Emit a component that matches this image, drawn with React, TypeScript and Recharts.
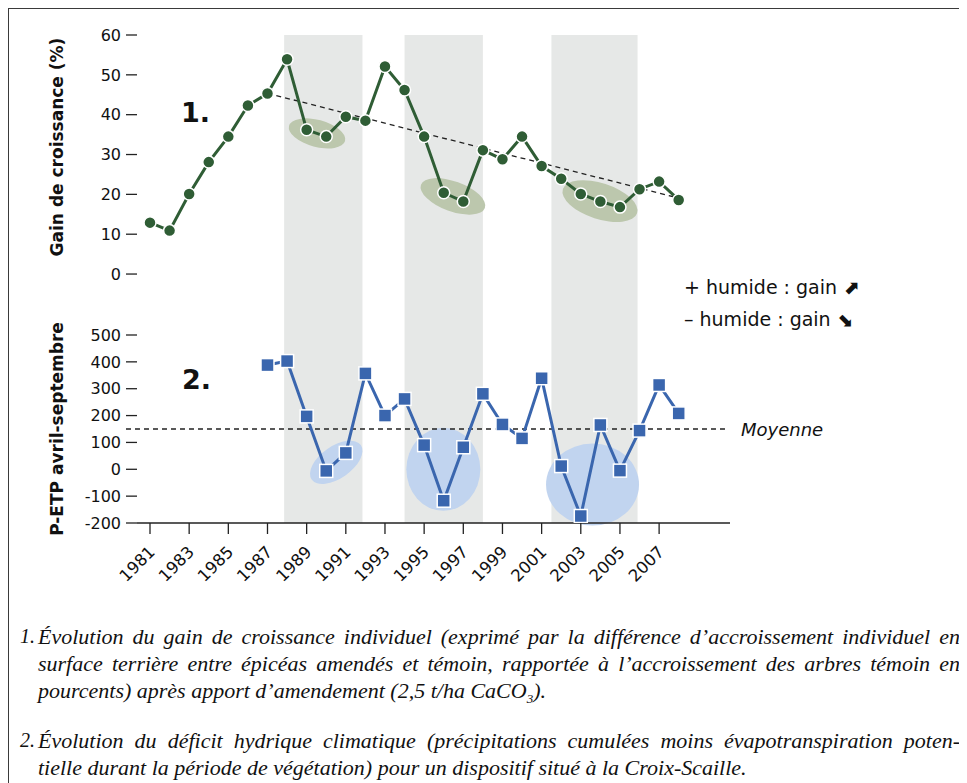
import React from 'react';
import {
  ComposedChart,
  Line,
  XAxis,
  YAxis,
  ReferenceArea,
  ReferenceLine,
  ReferenceDot,
} from 'recharts';

const years = [
  1981, 1982, 1983, 1984, 1985, 1986, 1987, 1988, 1989, 1990, 1991, 1992, 1993, 1994,
  1995, 1996, 1997, 1998, 1999, 2000, 2001, 2002, 2003, 2004, 2005, 2006, 2007, 2008,
];

// gain de croissance (%)
const gain = [
  12.9, 10.9, 20.1, 28.1, 34.5, 42.3, 45.3, 53.9, 36.2, 34.5, 39.5, 38.5, 52.1, 46.2,
  34.5, 20.4, 18.2, 31.1, 28.8, 34.5, 27.1, 23.9, 20.1, 18.2, 16.8, 21.3, 23.2, 18.6,
];

// P-ETP avril-septembre (mm)
const petp = [
  null, null, null, null, null, null, 388, 403, 197, -6, 61, 357, 200, 262,
  90, -117, 82, 281, 167, 115, 339, 12, -174, 165, -5, 144, 314, 208,
];

const xTicks = [1981, 1983, 1985, 1987, 1989, 1991, 1993, 1995, 1997, 1999, 2001, 2003, 2005, 2007];
const gainTicks = [0, 10, 20, 30, 40, 50, 60];
const petpTicks = [-200, -100, 0, 100, 200, 300, 400, 500];

// périodes grisées (années)
const bands = [
  [1987.85, 1991.85],
  [1994, 1998],
  [2001.5, 2005.9],
];

const trend = [
  { x: 1987.45, y: 44.8 },
  { x: 2007.9, y: 19.2 },
];
const moyenne = 150;

// centres des zones mises en évidence
const gainSpots = [
  { x: 1989.53, y: 35.3 },
  { x: 1996.47, y: 19.5 },
  { x: 2003.98, y: 18.3 },
];
const petpSpots = [
  { x: 1990.51, y: 26 },
  { x: 1995.98, y: 0 },
  { x: 2003.6, y: -57 },
];

const gainSpotShapes = [
  { rx: 29, ry: 13.5, angle: 15 },
  { rx: 34, ry: 15, angle: 20 },
  { rx: 39, ry: 18, angle: 18 },
];
const petpSpotShapes = [
  { rx: 30, ry: 16, angle: -35 },
  { rx: 37, ry: 41.5, angle: 0 },
  { rx: 46.5, ry: 41, angle: 0 },
];

const rows = years.map((year, i) => ({ year, gain: gain[i], petp: petp[i] }));

const GREEN = '#2f5d35';
const GREEN_SPOT = '#bcc7ad';
const BLUE = '#3a66ae';
const BLUE_SPOT = '#c1d4ef';
const BAND = '#e6e8e7';
const X_DOMAIN: [number, number] = [1980.336, 2010.62];
const FONT = '"DejaVu Sans", sans-serif';

const tickStyle = { fontSize: 16, fill: '#111', fontFamily: FONT };
const xTickStyle = { fontSize: 16.5, fill: '#111', fontFamily: FONT };

const ellipse = (shape: { rx: number; ry: number; angle: number }, fill: string) => (props: any) => {
  const { cx, cy } = props;
  return (
    <ellipse
      cx={cx}
      cy={cy}
      rx={shape.rx}
      ry={shape.ry}
      fill={fill}
      transform={`rotate(${shape.angle} ${cx} ${cy})`}
    />
  );
};

const CircleDot = (props: any) => {
  const { cx, cy, index } = props;
  if (cy == null || isNaN(cy)) return <g key={`c-${index}`} />;
  return <circle key={`c-${index}`} cx={cx} cy={cy} r={6} fill={GREEN} stroke="#fff" strokeWidth={1.5} />;
};

const SquareDot = (props: any) => {
  const { cx, cy, index } = props;
  if (cy == null || isNaN(cy)) return <g key={`s-${index}`} />;
  return (
    <rect key={`s-${index}`} x={cx - 6.5} y={cy - 6.5} width={13} height={13} fill={BLUE} stroke="#fff" strokeWidth={1.5} />
  );
};

const YearTick = (props: any) => {
  const { x, y, payload } = props;
  const px = x + 6;
  const py = y + 17;
  return (
    <text x={px} y={py} transform={`rotate(-45 ${px} ${py})`} textAnchor="end" style={xTickStyle}>
      {payload.value}
    </text>
  );
};

const captionLine = (top: number, text: React.ReactNode, justify: boolean) => (
  <div
    style={{
      position: 'absolute',
      left: 30,
      top,
      width: 922,
      lineHeight: '27px',
      whiteSpace: 'nowrap',
      textAlign: 'left',
      textAlignLast: justify ? 'justify' : 'left',
    }}
  >
    {text}
  </div>
);

const captionNumber = (top: number, text: string) => (
  <div style={{ position: 'absolute', left: 12, top, lineHeight: '27px', fontSize: 20 }}>{text}</div>
);

const TOP_MARGIN = { top: 27, right: 237, bottom: 13, left: 0 };
const BOTTOM_MARGIN = { top: 27, right: 237, bottom: 0, left: 0 };

const App: React.FC = () => {
  return (
    <div style={{ position: 'relative', width: 959, height: 775, overflow: 'hidden' }}>
      <style>{'body{overflow:hidden}'}</style>
      <div
        style={{
          position: 'absolute',
          left: 0,
          top: 0,
          width: 1000,
          height: 800,
          borderLeft: '1.5px solid #3a3a3a',
          borderTop: '1.5px solid #3a3a3a',
        }}
      />

      {/* 1. fond : périodes et zones */}
      <div style={{ position: 'absolute', left: 0, top: 0 }}>
        <ComposedChart width={959} height={340} data={rows} margin={TOP_MARGIN}>
          <XAxis type="number" dataKey="year" domain={X_DOMAIN} allowDataOverflow hide />
          <YAxis type="number" domain={[-15.3, 60]} width={129} axisLine={false} tickLine={false} tick={false} allowDataOverflow />
          {bands.map(([a, b], i) => (
            <ReferenceArea key={`ba-${i}`} x1={a} x2={b} fill={BAND} fillOpacity={1} stroke="none" />
          ))}
          {gainSpots.map((s, i) => (
            <ReferenceDot
              key={`gs-${i}`}
              x={s.x}
              y={s.y}
              r={1}
              ifOverflow="visible"
              shape={ellipse(gainSpotShapes[i], GREEN_SPOT)}
            />
          ))}
        </ComposedChart>
      </div>

      {/* 1. gain de croissance */}
      <div style={{ position: 'absolute', left: 0, top: 0 }}>
        <ComposedChart width={959} height={340} data={rows} margin={TOP_MARGIN}>
          <XAxis type="number" dataKey="year" domain={X_DOMAIN} allowDataOverflow hide />
          <YAxis
            type="number"
            domain={[-15.3, 60]}
            ticks={gainTicks}
            width={129}
            axisLine={false}
            tickSize={11}
            tickMargin={5}
            tickLine={{ stroke: '#222', strokeWidth: 1.3 }}
            tick={tickStyle}
            allowDataOverflow
          />
          <ReferenceLine segment={trend} stroke="#222" strokeWidth={1.3} strokeDasharray="5 4" ifOverflow="visible" />
          <Line
            type="linear"
            dataKey="gain"
            stroke={GREEN}
            strokeWidth={3}
            dot={CircleDot}
            activeDot={false}
            isAnimationActive={false}
          />
        </ComposedChart>
      </div>

      {/* 2. fond : périodes et zones */}
      <div style={{ position: 'absolute', left: 0, top: 300 }}>
        <ComposedChart width={959} height={290} data={rows} margin={BOTTOM_MARGIN}>
          <XAxis
            type="number"
            dataKey="year"
            domain={X_DOMAIN}
            allowDataOverflow
            height={75}
            axisLine={false}
            tickLine={false}
            tick={false}
          />
          <YAxis type="number" domain={[-200, 500]} width={129} axisLine={false} tickLine={false} tick={false} allowDataOverflow />
          {bands.map(([a, b], i) => (
            <ReferenceArea key={`bb-${i}`} x1={a} x2={b} fill={BAND} fillOpacity={1} stroke="none" />
          ))}
          {petpSpots.map((s, i) => (
            <ReferenceDot
              key={`ps-${i}`}
              x={s.x}
              y={s.y}
              r={1}
              ifOverflow="visible"
              shape={ellipse(petpSpotShapes[i], BLUE_SPOT)}
            />
          ))}
        </ComposedChart>
      </div>

      {/* 2. P-ETP */}
      <div style={{ position: 'absolute', left: 0, top: 300 }}>
        <ComposedChart width={959} height={290} data={rows} margin={BOTTOM_MARGIN}>
          <XAxis
            type="number"
            dataKey="year"
            domain={X_DOMAIN}
            allowDataOverflow
            ticks={xTicks}
            height={75}
            tickSize={11}
            axisLine={{ stroke: '#222', strokeWidth: 1.5 }}
            tickLine={{ stroke: '#222', strokeWidth: 1.3 }}
            tick={YearTick}
            interval={0}
          />
          <YAxis
            type="number"
            domain={[-200, 500]}
            ticks={petpTicks}
            width={129}
            axisLine={false}
            tickSize={11}
            tickMargin={5}
            tickLine={{ stroke: '#222', strokeWidth: 1.3 }}
            tick={tickStyle}
            allowDataOverflow
          />
          <ReferenceLine
            segment={[
              { x: 1979.774, y: moyenne },
              { x: 2010.5, y: moyenne },
            ]}
            stroke="#222"
            strokeWidth={1.3}
            strokeDasharray="5 4"
            ifOverflow="visible"
          />
          <Line
            type="linear"
            dataKey="petp"
            stroke={BLUE}
            strokeWidth={3}
            dot={SquareDot}
            activeDot={false}
            isAnimationActive={false}
          />
        </ComposedChart>
      </div>

      {/* texts */}
      <svg
        width={959}
        height={600}
        style={{ position: 'absolute', left: 0, top: 0, pointerEvents: 'none', fontFamily: FONT }}
      >
        <text
          x={49}
          y={139}
          transform="rotate(-90 49 139)"
          textAnchor="middle"
          dominantBaseline="central"
          fontSize={17}
          fontWeight="bold"
          fill="#111"
        >
          Gain de croissance (%)
        </text>
        <text
          x={49}
          y={421}
          transform="rotate(-90 49 421)"
          textAnchor="middle"
          dominantBaseline="central"
          fontSize={17}
          fontWeight="bold"
          fill="#111"
        >
          P-ETP avril-septembre
        </text>
        <text x={173} y={114} fontSize={27} fontWeight="bold" fill="#111">
          1.
        </text>
        <text x={174} y={381} fontSize={27} fontWeight="bold" fill="#111">
          2.
        </text>
        <text x={676} y={286} fontSize={19} fill="#111">
          + humide : gain <tspan fontWeight="bold">⬈</tspan>
        </text>
        <text x={676} y={318} fontSize={19} fill="#111">
          – humide : gain <tspan fontWeight="bold">⬊</tspan>
        </text>
        <text x={733} y={428} fontSize={18} fontStyle="italic" fill="#111">
          Moyenne
        </text>
      </svg>

      {/* légende */}
      <div style={{ fontFamily: '"Liberation Serif", serif', fontStyle: 'italic', fontSize: 22, color: '#111' }}>
        {captionNumber(614.5, '1.')}
        {captionLine(
          614.5,
          'Évolution du gain de croissance individuel (exprimé par la différence d’accroissement individuel en',
          true
        )}
        {captionLine(
          641.5,
          'surface terrière entre épicéas amendés et témoin, rapportée à l’accroissement des arbres témoin en',
          true
        )}
        {captionLine(
          668.5,
          <>
            pourcents) après apport d’amendement (2,5 t/ha CaCO<sub style={{ fontSize: 13, lineHeight: 0 }}>3</sub>).
          </>,
          false
        )}
        {captionNumber(718.5, '2.')}
        {captionLine(
          718.5,
          'Évolution du déficit hydrique climatique (précipitations cumulées moins évapotranspiration poten-',
          true
        )}
        {captionLine(745.5, 'tielle durant la période de végétation) pour un dispositif situé à la Croix-Scaille.', false)}
      </div>
    </div>
  );
};

export default App;
